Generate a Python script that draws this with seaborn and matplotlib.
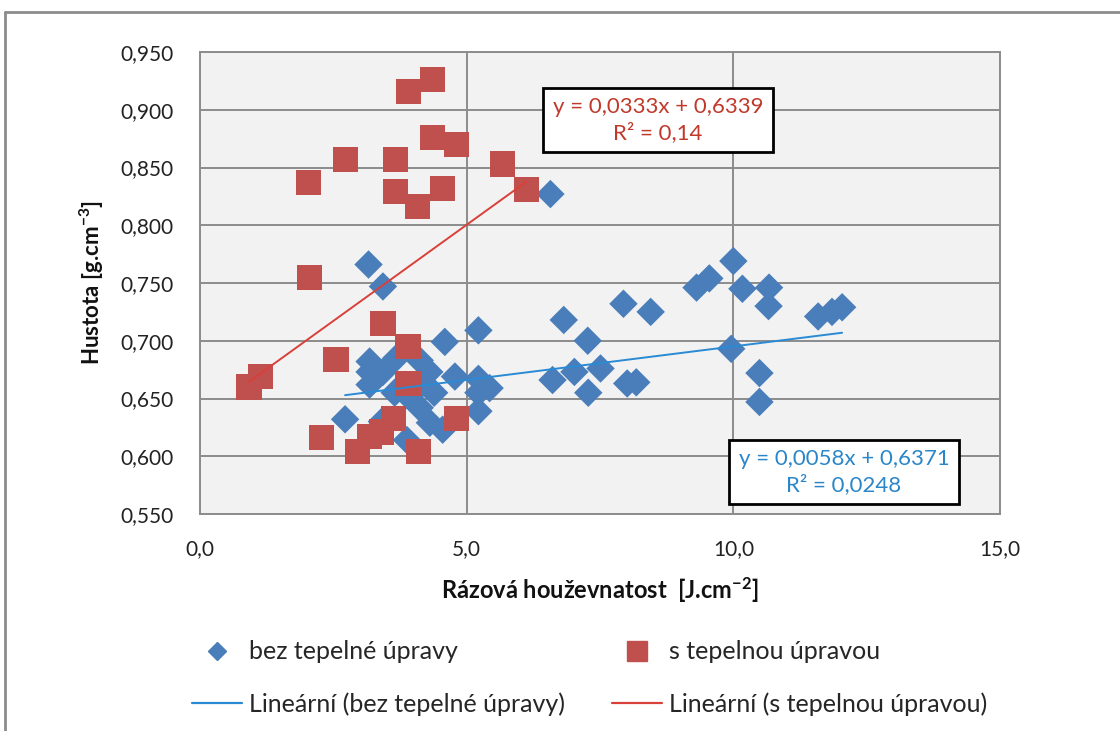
import numpy as np
import pandas as pd
import matplotlib
matplotlib.use("Agg")
import matplotlib.pyplot as plt
from matplotlib.lines import Line2D
import seaborn as sns

# ---- data ----
bez_x = [2.72, 3.16, 3.43, 3.18, 3.18, 3.43, 3.18, 3.68, 3.41, 3.65, 3.88, 4.12,
         4.30, 4.17, 4.12, 4.39, 4.31, 4.55, 3.88, 4.59, 4.78, 5.22, 5.22, 5.22,
         5.43, 5.22, 6.57, 6.82, 7.27, 7.02, 6.61, 7.51, 7.28, 7.94, 8.45, 8.01,
         8.18, 9.31, 9.55, 10.00, 10.17, 10.67, 10.66, 9.96, 10.49, 10.49, 11.59,
         11.85, 12.04]
bez_y = [0.632, 0.766, 0.747, 0.682, 0.673, 0.673, 0.662, 0.685, 0.630, 0.655,
         0.653, 0.683, 0.673, 0.663, 0.642, 0.655, 0.629, 0.623, 0.614, 0.699,
         0.669, 0.709, 0.667, 0.655, 0.659, 0.639, 0.827, 0.718, 0.700, 0.673,
         0.666, 0.676, 0.655, 0.732, 0.725, 0.663, 0.664, 0.746, 0.754, 0.769,
         0.745, 0.746, 0.730, 0.693, 0.672, 0.647, 0.721, 0.725, 0.729]

s_x = [3.91, 4.36, 4.36, 4.81, 2.73, 3.67, 2.04, 3.67, 4.08, 4.55, 5.67, 6.12,
       2.06, 0.92, 1.14, 3.43, 2.55, 3.90, 3.90, 4.81, 2.28, 2.96, 3.18, 3.41,
       3.63, 4.10]
s_y = [0.916, 0.926, 0.876, 0.870, 0.857, 0.857, 0.837, 0.829, 0.816, 0.832,
       0.853, 0.831, 0.755, 0.660, 0.669, 0.715, 0.684, 0.695, 0.663, 0.633,
       0.616, 0.604, 0.617, 0.621, 0.633, 0.604]

# trendline coefficients as shown in the chart
bez_slope, bez_icpt, bez_r2 = 0.0058, 0.6371, "0,0248"
s_slope, s_icpt, s_r2 = 0.0333, 0.6339, "0,14"

x_ticks = [0, 5, 10, 15]
x_labels = ["0,0", "5,0", "10,0", "15,0"]
y_ticks = [0.55, 0.60, 0.65, 0.70, 0.75, 0.80, 0.85, 0.90, 0.95]
y_labels = ["0,550", "0,600", "0,650", "0,700", "0,750", "0,800", "0,850", "0,900", "0,950"]

series_bez = "bez tepelné úpravy"
series_s = "s tepelnou úpravou"
trend_bez = "Lineární (bez tepelné úpravy)"
trend_s = "Lineární (s tepelnou úpravou)"

# ---- style ----
sns.set_style("white")
plt.rcParams["font.family"] = ["Lato", "DejaVu Sans"]
plt.rcParams["mathtext.default"] = "regular"

BLUE = "#4a7ebb"
RED = "#c0504d"
BLUE_LINE = "#2a8ad4"
RED_LINE = "#d9403a"
GRID = "#8c8c8c"

fig = plt.figure(figsize=(11.2, 7.31), dpi=100)
ax = fig.add_axes([200 / 1120, 1 - 514 / 731, 800 / 1120, 462 / 731])
ax.set_facecolor("#f2f2f2")

df_b = pd.DataFrame({"x": bez_x, "y": bez_y})
df_s = pd.DataFrame({"x": s_x, "y": s_y})

sns.scatterplot(data=df_b, x="x", y="y", marker="D", s=210, color=BLUE,
                edgecolor="none", ax=ax, zorder=3)
sns.scatterplot(data=df_s, x="x", y="y", marker="s", s=330, color=RED,
                edgecolor="none", ax=ax, zorder=4)

tb_x = np.array([min(bez_x), max(bez_x)])
ts_x = np.array([min(s_x), max(s_x)])
df_tb = pd.DataFrame({"x": tb_x, "y": bez_slope * tb_x + bez_icpt})
df_ts = pd.DataFrame({"x": ts_x, "y": s_slope * ts_x + s_icpt})
sns.lineplot(data=df_tb, x="x", y="y", color=BLUE_LINE, lw=1.4, ax=ax, zorder=5)
sns.lineplot(data=df_ts, x="x", y="y", color=RED_LINE, lw=1.4, ax=ax, zorder=5)

ax.set_xlim(0, 15)
ax.set_ylim(0.55, 0.95)
ax.set_xticks(x_ticks)
ax.set_xticklabels(x_labels)
ax.set_yticks(y_ticks)
ax.set_yticklabels(y_labels)
ax.tick_params(axis="both", labelsize=15, colors="#222222", length=5,
               width=1.2, direction="out")
ax.tick_params(axis="both", color=GRID)
ax.tick_params(axis="y", pad=14)
ax.tick_params(axis="x", pad=13)
ax.grid(True, color=GRID, lw=1.4)
ax.set_axisbelow(True)
for sp in ax.spines.values():
    sp.set_color(GRID)
    sp.set_linewidth(1.4)

ax.set_xlabel("Rázová houževnatost  [J.cm$^{-2}$]", fontsize=17, fontweight="bold",
              labelpad=12, color="#111111")
ax.set_ylabel("Hustota [g.cm$^{-3}$]", fontsize=16, fontweight="bold",
              labelpad=10, color="#111111")

box = dict(boxstyle="square,pad=0.42", facecolor="white", edgecolor="black", lw=2)
ax.text(0.5725, 0.853, f"y = 0,0333x + 0,6339\nR² = {s_r2}", transform=ax.transAxes,
        ha="center", va="center", fontsize=16, color="#c0392b", bbox=box,
        linespacing=1.3, zorder=10)
ax.text(0.805, 0.091, f"y = 0,0058x + 0,6371\nR² = {bez_r2}", transform=ax.transAxes,
        ha="center", va="center", fontsize=16, color="#2a86c8", bbox=box,
        linespacing=1.3, zorder=10)

handles = [
    Line2D([], [], marker="D", ls="none", color=BLUE, markersize=9, label=series_bez),
    Line2D([], [], color=BLUE_LINE, lw=1.6, label=trend_bez),
    Line2D([], [], marker="s", ls="none", color=RED, markersize=14, label=series_s),
    Line2D([], [], color=RED_LINE, lw=1.6, label=trend_s),
]
fig.legend(handles=handles, ncol=2, loc="center", bbox_to_anchor=(0.5265, 0.0724),
           frameon=False, fontsize=18, handlelength=2.0, handletextpad=0.28,
           columnspacing=1.9, labelspacing=1.15)

# outer chart border (top and left visible)
fig.add_artist(Line2D([5 / 1120, 1.0], [1 - 12 / 731, 1 - 12 / 731], color="#8c8c8c",
                      lw=2, transform=fig.transFigure))
fig.add_artist(Line2D([5 / 1120, 5 / 1120], [0, 1 - 12 / 731], color="#8c8c8c",
                      lw=2, transform=fig.transFigure))

fig.savefig("out.png", dpi=100)
